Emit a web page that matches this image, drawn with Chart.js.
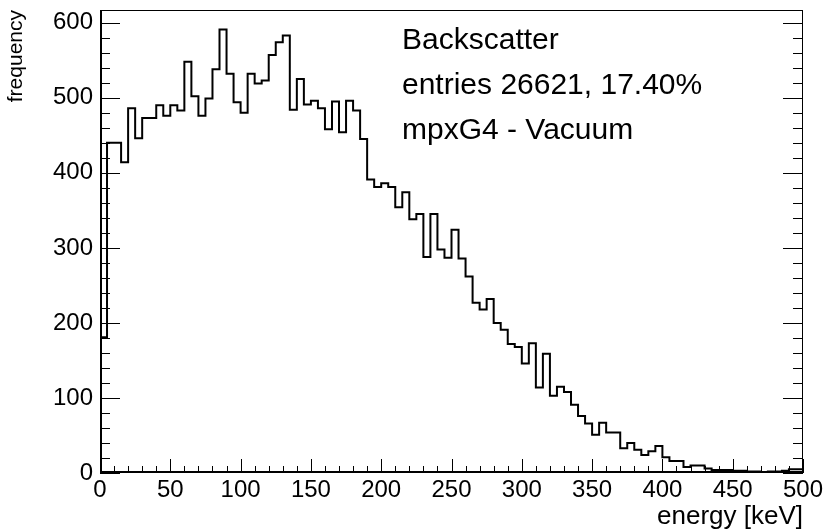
<!DOCTYPE html>
<html>
<head>
<meta charset="utf-8">
<script src="https://cdn.jsdelivr.net/npm/chart.js@4.4.0/dist/chart.umd.min.js"></script>
<style>
  html, body { margin: 0; padding: 0; background: #fff; }
  #wrap { width: 839px; height: 532px; }
</style>
</head>
<body>
<div id="wrap"><canvas id="hist" width="839" height="532"></canvas></div>
<script>
// histogram: 100 bins of 5 keV from 0 to 500 keV
const binWidth = 5;
const counts = [
  0, 181, 440, 440, 414, 486, 446, 473, 473, 490,
  476, 490, 483, 548, 502, 476, 499, 538, 591, 532,
  494, 480, 532, 519, 523, 557, 574, 583, 484, 525,
  491, 496, 486, 458, 495, 454, 496, 483, 445, 391,
  381, 386, 381, 354, 374, 338, 345, 288, 345, 298,
  287, 324, 286, 262, 227, 218, 232, 200, 191, 172,
  168, 146, 173, 114, 159, 103, 115, 108, 91, 76,
  66, 51, 67, 54, 54, 33, 40, 31, 24, 29,
  36, 21, 16, 16, 8, 10, 10, 6, 4, 4,
  4, 3, 3, 2, 2, 1, 2, 2, 3, 5
];
const xTicks = [0, 50, 100, 150, 200, 250, 300, 350, 400, 450, 500];
const yTicks = [0, 100, 200, 300, 400, 500, 600];
const infoLines = ['Backscatter', 'entries 26621, 17.40%', 'mpxG4 - Vacuum'];

const FONT = '"Liberation Sans", Arial, Helvetica, sans-serif';

// points at lower bin edges, plus closing point at the upper edge
const points = counts.map((c, i) => ({ x: i * binWidth, y: c }));
points.push({ x: counts.length * binWidth, y: counts[counts.length - 1] });

// frame, inward ticks (ROOT style) and the stats text
const rootFrame = {
  id: 'rootFrame',
  afterDatasetsDraw(chart) {
    const { ctx, chartArea: a, scales: { x, y } } = chart;
    ctx.save();
    ctx.strokeStyle = '#000';
    ctx.lineWidth = 1;
    ctx.strokeRect(a.left + 0.5, a.top + 0.5, a.right - a.left - 1, a.bottom - a.top - 1);

    ctx.beginPath();
    for (let v = 0; v <= 600; v += 20) {
      const py = Math.round(y.getPixelForValue(v)) + 0.5;
      const len = v % 100 === 0 ? 20 : 10;
      ctx.moveTo(a.left, py); ctx.lineTo(a.left + len, py);
      ctx.moveTo(a.right, py); ctx.lineTo(a.right - len, py);
    }
    for (let v = 0; v <= 500; v += 10) {
      const px = Math.round(x.getPixelForValue(v)) + 0.5;
      const len = v % 50 === 0 ? 14 : 7;
      ctx.moveTo(px, a.bottom); ctx.lineTo(px, a.bottom - len);
    }
    ctx.stroke();

    // heavier left and bottom axis lines
    ctx.lineWidth = 2;
    ctx.beginPath();
    ctx.moveTo(a.left + 1, a.top); ctx.lineTo(a.left + 1, a.bottom);
    ctx.moveTo(a.left, a.bottom - 1); ctx.lineTo(a.right, a.bottom - 1);
    ctx.stroke();

    ctx.fillStyle = '#000';
    ctx.font = '30px ' + FONT;
    ctx.textAlign = 'left';
    ctx.textBaseline = 'alphabetic';
    infoLines.forEach((t, i) => ctx.fillText(t, 402, 49 + i * 45));
    ctx.restore();
  }
};

new Chart(document.getElementById('hist'), {
  type: 'line',
  data: {
    datasets: [{
      data: points,
      stepped: 'after',
      borderColor: '#000',
      borderWidth: 2,
      pointRadius: 0,
      fill: false
    }]
  },
  options: {
    responsive: false,
    animation: false,
    layout: { padding: { top: 10, right: 36, left: 0, bottom: 0 } },
    plugins: { legend: { display: false }, tooltip: { enabled: false } },
    scales: {
      x: {
        type: 'linear',
        min: 0,
        max: 500,
        afterBuildTicks: s => { s.ticks = xTicks.map(v => ({ value: v })); },
        afterFit: s => { s.height = 59; s.paddingLeft = 0; s.paddingRight = 0; },
        grid: { display: false, drawTicks: false },
        border: { display: false },
        ticks: { color: '#000', font: { family: FONT, size: 24 }, padding: 3, maxRotation: 0, autoSkip: false },
        title: { display: true, text: 'energy [keV]', align: 'end', color: '#000',
                 font: { family: FONT, size: 26 }, padding: { top: 0, bottom: 0 } }
      },
      y: {
        min: 0,
        max: 617,
        afterBuildTicks: s => { s.ticks = yTicks.map(v => ({ value: v })); },
        afterFit: s => { s.width = 100; s.paddingTop = 0; s.paddingBottom = 0; },
        grid: { display: false, drawTicks: false },
        border: { display: false },
        ticks: { color: '#000', font: { family: FONT, size: 24 }, padding: 7 },
        title: { display: true, text: 'frequency', align: 'end', color: '#000',
                 font: { family: FONT, size: 21 }, padding: { top: 4, bottom: 0 } }
      }
    }
  },
  plugins: [rootFrame]
});
</script>
</body>
</html>
